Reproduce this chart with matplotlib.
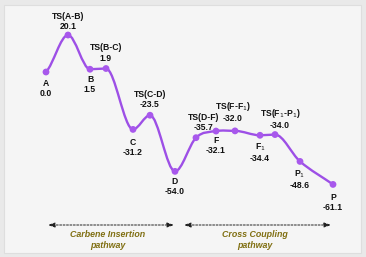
import numpy as np
import matplotlib
matplotlib.use("Agg")
import matplotlib.pyplot as plt
from matplotlib.path import Path
from matplotlib.patches import PathPatch, Rectangle

plt.rcParams['font.family'] = ['Liberation Sans', 'DejaVu Sans']

# species along the reaction coordinate and their relative energies
names = ['A', 'TS(A-B)', 'B', 'TS(B-C)', 'C', 'TS(C-D)', 'D', 'TS(D-F)', 'F',
         'TS(F-F$_1$)', 'F$_1$', 'TS(F$_1$-P$_1$)', 'P$_1$', 'P']
energy = [0.0, 20.1, 1.5, 1.9, -31.2, -23.5, -54.0, -35.7, -32.1,
          -32.0, -34.4, -34.0, -48.6, -61.1]
coord = [46, 68, 90, 106, 133, 150, 175, 196, 216, 235, 260, 275, 300, 333]
pathways = ['Carbene Insertion\npathway', 'Cross Coupling\npathway']

# label placement (pixel offsets from the point); positive = above
lab_off = [(0, -7), (0, 4), (0, -6), (0, 6), (0, -9), (0, 6), (0, -6),
           (8, 6), (0, -5), (-2, 8), (0, -6), (5, 5), (0, -7), (0, -9)]

W, H = 366, 257
fig = plt.figure(figsize=(W / 100, H / 100), dpi=100)
fig.patch.set_facecolor('#e9e9e9')

ax = fig.add_axes([0, 0, 1, 1])
ax.set_facecolor('none')
ax.add_patch(Rectangle((4 / W, 4 / H), 1 - 9 / W, 1 - 9 / H,
                       transform=fig.transFigure, facecolor='#f5f5f5',
                       edgecolor='#dedede', lw=0.8, zorder=0))
# pixel y = 72 - 1.84 * E
k, y0 = 1.84, 72
ax.set_xlim(0, W)
ax.set_ylim((y0 - H) / k, y0 / k)
ax.axis('off')

x = np.array(coord, float)
y = np.array(energy, float)
n = len(x)
m = np.zeros(n)
for i in range(n):
    if i == 0:
        m[i] = (y[1] - y[0]) / (x[1] - x[0]) * 0.6
    elif i == n - 1:
        m[i] = (y[-1] - y[-2]) / (x[-1] - x[-2])
    elif (y[i] - y[i - 1]) * (y[i + 1] - y[i]) <= 0:
        m[i] = 0.0
    else:
        m[i] = (y[i + 1] - y[i - 1]) / (x[i + 1] - x[i - 1])

verts = [(x[0], y[0])]
codes = [Path.MOVETO]
for i in range(n - 1):
    d = (x[i + 1] - x[i]) / 3
    verts += [(x[i] + d, y[i] + m[i] * d), (x[i + 1] - d, y[i + 1] - m[i + 1] * d),
              (x[i + 1], y[i + 1])]
    codes += [Path.CURVE4] * 3
ax.add_patch(PathPatch(Path(verts, codes), facecolor='none', edgecolor='#9d4fe6',
                       lw=1.7, zorder=2))
ax.scatter(x, y, s=24, color='#a858ec', zorder=3, edgecolors='none')

for nm, e, xc, (dx, dy) in zip(names, energy, coord, lab_off):
    va = 'bottom' if dy > 0 else 'top'
    ax.annotate(f'{nm}\n{e:.1f}', (xc, e), xytext=(dx * 0.72, dy * 0.72),
                textcoords='offset points', ha='center', va=va, fontsize=6.2,
                fontweight='bold', linespacing=1.15, color='#111111')

def py(p):
    return (y0 - p) / k

olive = '#806f12'
for (xa, xb), txt in zip([(48, 174), (184, 331)], pathways):
    ax.annotate('', xy=(xb, py(225)), xytext=(xa, py(225)),
                arrowprops=dict(arrowstyle='<|-|>,head_length=0.4,head_width=0.14',
                                ls=(0, (2, 1.5)), lw=0.7, color='#222222',
                                shrinkA=0, shrinkB=0))
    ax.text((xa + xb) / 2 - 3, py(240), txt, ha='center', va='center', fontsize=6.4,
            fontweight='bold', style='italic', color=olive, linespacing=1.2)

fig.savefig('out.png', dpi=100, facecolor=fig.get_facecolor())
